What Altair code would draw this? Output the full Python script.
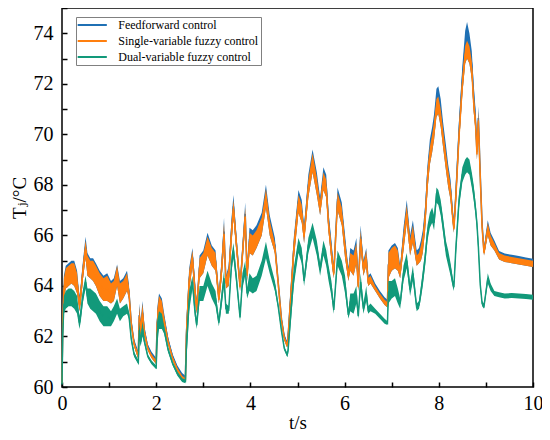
import altair as alt
import pandas as pd

# time axis (s)
t = [
    0.00, 0.015, 0.04, 0.08, 0.14, 0.20, 0.26, 0.32, 0.37, 0.40,
    0.44, 0.50, 0.54, 0.60, 0.66, 0.72, 0.80, 0.88, 0.96, 1.04,
    1.10, 1.17, 1.23, 1.30, 1.38, 1.42, 1.47, 1.53, 1.62, 1.64,
    1.67, 1.71, 1.75, 1.82, 1.90, 2.00, 2.02, 2.06, 2.12, 2.17,
    2.25, 2.35, 2.45, 2.55, 2.62, 2.64, 2.70, 2.77, 2.82, 2.86,
    2.92, 3.00, 3.09, 3.18, 3.26, 3.33, 3.39, 3.44, 3.48, 3.54,
    3.60, 3.64, 3.70, 3.78, 3.83, 3.89, 3.93, 3.98, 4.05, 4.13,
    4.24, 4.33, 4.41, 4.52, 4.59, 4.66, 4.72, 4.78, 4.80, 4.86,
    4.92, 5.02, 5.09, 5.14, 5.23, 5.32, 5.41, 5.48, 5.55, 5.61,
    5.66, 5.72, 5.77, 5.85, 5.94, 6.01, 6.08, 6.12, 6.19, 6.25,
    6.29, 6.34, 6.40, 6.46, 6.50, 6.55, 6.65, 6.75, 6.85, 6.91,
    6.93, 7.00, 7.07, 7.13, 7.18, 7.25, 7.32, 7.39, 7.45, 7.53,
    7.58, 7.62, 7.66, 7.71, 7.76, 7.81, 7.86, 7.90, 7.95, 7.99,
    8.04, 8.09, 8.15, 8.20, 8.25, 8.29, 8.32, 8.36, 8.43, 8.50,
    8.56, 8.60, 8.65, 8.70, 8.74, 8.78, 8.81, 8.84, 8.88, 8.92,
    8.96, 9.00, 9.04, 9.10, 9.18, 9.28, 9.40, 9.55, 9.70, 9.85,
    10.0,
]

# Feedforward control: upper edge of the noisy band
ff_hi = [
    60.3, 62.9, 64.4, 64.8, 64.9, 65.0, 65.0, 64.6, 63.6, 64.1,
    64.9, 65.95, 65.3, 65.1, 65.1, 64.9, 64.6, 64.4, 64.5, 64.2,
    64.3, 64.85, 64.2, 64.3, 64.6, 64.1, 62.7, 61.9, 61.4, 63.3,
    62.6, 63.4, 62.4, 61.7, 61.4, 61.15, 63.1, 63.7, 63.5, 62.9,
    62.0, 61.3, 60.85, 60.55, 60.45, 62.6, 64.7, 65.5, 64.3, 63.3,
    65.2, 65.4, 66.1, 65.6, 65.4, 63.7, 65.1, 66.7, 64.4, 64.8,
    66.7, 67.6, 66.1, 64.2, 65.6, 67.3, 64.7, 66.3, 66.2, 66.4,
    66.9, 68.0, 66.8, 65.9, 64.3, 62.8, 62.1, 61.8, 62.3, 64.1,
    65.9, 67.8, 67.4, 66.4, 68.4, 69.4, 68.5, 67.5, 68.7, 68.4,
    66.9, 65.8, 64.7, 67.9, 67.3, 66.0, 64.7, 65.5, 65.4, 65.9,
    64.2, 66.4, 65.0, 65.5, 64.4, 64.5, 64.1, 63.8, 63.55, 63.45,
    65.4, 65.6, 65.7, 65.5, 64.8, 66.3, 67.4, 66.0, 66.6, 65.4,
    65.5, 65.8, 66.2, 67.2, 68.8, 69.8, 70.3, 70.8, 71.8, 71.9,
    71.4, 70.5, 69.6, 68.8, 68.2, 67.2, 66.5, 68.0, 70.6, 72.7,
    74.1, 74.45, 74.0, 73.3, 72.0, 71.0, 69.6, 71.1, 68.8, 66.7,
    65.5, 66.1, 66.6, 66.1, 65.8, 65.38, 65.28, 65.23, 65.18, 65.13,
    65.08,
]

# Single-variable fuzzy control: upper / lower edge of the band
sv_hi = [
    60.3, 62.8, 64.3, 64.7, 64.8, 64.9, 64.9, 64.5, 63.5, 64.0,
    64.8, 65.8, 65.2, 65.0, 65.0, 64.8, 64.5, 64.3, 64.4, 64.1,
    64.2, 64.8, 64.1, 64.2, 64.5, 64.0, 62.6, 61.8, 61.3, 63.2,
    62.5, 63.3, 62.3, 61.6, 61.3, 61.05, 63.0, 63.6, 63.4, 62.8,
    61.9, 61.2, 60.75, 60.45, 60.35, 62.5, 64.6, 65.4, 64.2, 63.2,
    65.1, 65.3, 65.95, 65.5, 65.3, 63.6, 65.0, 66.5, 64.3, 64.7,
    66.5, 67.4, 66.0, 64.1, 65.5, 67.1, 64.6, 66.1, 66.0, 66.2,
    66.7, 67.85, 66.6, 65.7, 64.2, 62.7, 62.0, 61.7, 62.2, 64.0,
    65.8, 67.6, 67.2, 66.2, 68.2, 69.25, 68.3, 67.3, 68.5, 68.2,
    66.7, 65.6, 64.6, 67.7, 67.1, 65.8, 64.6, 65.3, 65.2, 65.7,
    64.1, 66.2, 64.9, 65.4, 64.3, 64.4, 64.0, 63.7, 63.45, 63.35,
    65.3, 65.5, 65.6, 65.4, 64.7, 66.1, 67.2, 65.8, 66.4, 65.2,
    65.3, 65.6, 66.0, 67.0, 68.6, 69.5, 70.0, 70.5, 71.4, 71.5,
    71.0, 70.2, 69.3, 68.6, 68.0, 67.0, 66.4, 67.8, 70.3, 72.3,
    73.5, 73.7, 73.5, 72.9, 71.6, 70.7, 69.4, 70.9, 68.6, 66.5,
    65.4, 66.0, 66.5, 66.0, 65.7, 65.3, 65.2, 65.15, 65.1, 65.05,
    65.0,
]
sv_lo = [
    60.0, 62.3, 63.4, 63.9, 64.0, 64.1, 64.0, 63.7, 63.0, 63.3,
    64.2, 65.1, 64.4, 64.3, 64.2, 64.0, 63.6, 63.4, 63.4, 63.3,
    63.4, 64.0, 63.3, 63.5, 63.8, 63.5, 62.4, 61.6, 61.1, 62.4,
    62.0, 62.5, 62.0, 61.45, 61.15, 60.9, 62.0, 62.6, 62.6, 62.4,
    61.7, 61.05, 60.6, 60.3, 60.2, 61.5, 63.8, 64.8, 63.5, 62.9,
    64.3, 64.5, 65.2, 64.8, 64.6, 63.3, 64.3, 65.6, 63.9, 64.0,
    65.7, 66.7, 65.4, 63.8, 64.9, 66.4, 64.2, 65.3, 65.2, 65.5,
    66.0, 67.1, 66.0, 65.3, 64.0, 62.55, 61.85, 61.55, 61.7, 63.3,
    65.0, 66.9, 66.5, 65.7, 67.5, 68.5, 67.6, 66.8, 67.8, 67.5,
    66.1, 65.0, 64.3, 67.0, 66.4, 65.1, 64.2, 64.6, 64.4, 64.9,
    63.8, 65.5, 64.4, 64.8, 64.0, 64.1, 63.8, 63.5, 63.25, 63.15,
    64.3, 64.6, 64.7, 64.6, 64.3, 65.4, 66.5, 65.2, 65.7, 64.8,
    64.9, 65.0, 65.3, 66.2, 67.8, 68.8, 69.3, 69.8, 70.7, 70.8,
    70.3, 69.5, 68.6, 67.9, 67.4, 66.6, 66.1, 67.1, 69.6, 71.6,
    72.8, 73.0, 72.8, 72.2, 70.9, 70.1, 69.0, 70.2, 68.0, 66.1,
    65.2, 65.6, 66.0, 65.6, 65.4, 65.05, 64.95, 64.9, 64.85, 64.8,
    64.75,
]

# Dual-variable fuzzy control: upper / lower edge of the band
dv_hi = [
    60.2, 62.3, 63.6, 63.8, 63.9, 63.9, 63.8, 63.6, 62.8, 63.2,
    63.8, 64.4, 63.9, 63.9, 63.8, 63.7, 63.4, 63.2, 63.2, 63.0,
    63.2, 63.5, 63.1, 63.2, 63.3, 63.0, 62.0, 61.4, 61.05, 62.6,
    62.0, 62.6, 61.9, 61.3, 61.05, 60.85, 62.6, 63.0, 62.9, 62.4,
    61.6, 61.0, 60.6, 60.35, 60.3, 62.0, 63.8, 64.4, 63.3, 62.6,
    64.0, 64.0, 64.6, 64.1, 63.8, 62.7, 63.8, 64.6, 63.3, 63.2,
    65.2, 65.7, 64.6, 62.9, 64.5, 65.0, 63.9, 64.5, 64.3, 64.4,
    65.0, 65.75, 65.0, 64.2, 63.3, 62.3, 61.6, 61.35, 61.6, 63.3,
    64.7, 65.9, 65.5, 64.4, 65.9, 66.5, 65.8, 64.9, 65.8, 65.4,
    64.8, 64.2, 63.2, 65.4, 65.0, 64.4, 63.0, 63.7, 63.7, 64.0,
    62.9, 64.5, 63.3, 64.0, 63.2, 63.3, 63.1, 62.9, 62.7, 62.6,
    64.2, 64.2, 64.3, 63.9, 63.5, 64.8, 65.3, 64.1, 64.8, 63.3,
    63.4, 64.0, 64.6, 65.4, 66.4, 66.9, 67.1, 66.8, 67.9, 67.8,
    67.4, 66.7, 65.8, 65.4, 64.9, 64.4, 64.1, 65.7, 67.7, 68.7,
    69.0, 69.1, 69.0, 68.5, 68.0, 67.3, 66.7, 65.8, 64.2, 63.4,
    63.3, 63.9, 64.5, 64.1, 63.8, 63.75, 63.7, 63.72, 63.7, 63.68,
    63.65,
]
dv_lo = [
    60.0, 61.8, 62.9, 63.1, 63.2, 63.2, 63.1, 62.9, 62.3, 62.6,
    63.3, 63.9, 63.3, 63.1, 63.0, 62.9, 62.6, 62.4, 62.4, 62.4,
    62.6, 62.9, 62.6, 62.8, 62.9, 62.7, 61.8, 61.2, 60.9, 61.9,
    61.6, 62.0, 61.7, 61.15, 60.9, 60.7, 61.6, 62.3, 62.3, 62.1,
    61.4, 60.85, 60.45, 60.2, 60.15, 61.0, 63.0, 63.9, 62.8, 62.3,
    63.4, 63.4, 64.0, 63.5, 63.2, 62.4, 63.2, 64.0, 62.9, 62.9,
    64.6, 65.1, 64.1, 62.6, 63.9, 64.4, 63.5, 63.8, 63.7, 63.8,
    64.4, 65.1, 64.5, 63.8, 63.1, 62.15, 61.45, 61.2, 61.3, 62.6,
    64.0, 65.3, 64.9, 64.0, 65.3, 65.9, 65.2, 64.4, 65.2, 64.8,
    64.2, 63.6, 62.9, 64.8, 64.4, 63.7, 62.7, 63.0, 62.9, 63.3,
    62.7, 63.8, 62.9, 63.4, 62.9, 63.0, 62.9, 62.7, 62.5, 62.45,
    63.3, 63.5, 63.6, 63.3, 63.1, 64.2, 64.7, 63.6, 64.2, 63.0,
    63.1, 63.5, 64.0, 64.8, 65.8, 66.3, 66.5, 66.2, 67.3, 67.2,
    66.8, 66.1, 65.2, 64.8, 64.4, 64.0, 63.8, 65.1, 67.1, 68.1,
    68.4, 68.5, 68.4, 67.9, 67.4, 66.8, 66.2, 65.3, 63.9, 63.2,
    63.1, 63.6, 64.1, 63.8, 63.6, 63.55, 63.5, 63.52, 63.5, 63.48,
    63.45,
]

names = ["Feedforward control", "Single-variable fuzzy control",
         "Dual-variable fuzzy control"]
colors = ["#1f70b4", "#ff7f0e", "#12997a"]

FONT = "'Liberation Serif', 'Times New Roman', 'DejaVu Serif', serif"


def band_frame(name, hi, lo):
    return pd.DataFrame({
        "t": t, "hi": hi, "lo": lo,
        "mid": [(a + b) / 2 for a, b in zip(hi, lo)],
        "series": name,
    })


frames = [
    band_frame(names[0], ff_hi, sv_lo),
    band_frame(names[1], sv_hi, sv_lo),
    band_frame(names[2], dv_hi, dv_lo),
]

x_enc = alt.X(
    "t:Q", title="t/s",
    scale=alt.Scale(domain=[0, 10], nice=False, zero=False),
    axis=alt.Axis(
        values=list(range(0, 11)),
        labelExpr="datum.value % 2 == 0 ? datum.label : ''",
        domain=False, grid=False, offset=-5, tickSize=5, tickWidth=1.5,
        tickColor="black", labelFont=FONT, labelFontSize=20,
        labelColor="black", labelPadding=6, titleFont=FONT,
        titleFontSize=19, titleFontWeight="normal", titleColor="black",
        titlePadding=0, labelFlush=False,
    ),
)
y_axis = alt.Axis(
    values=list(range(60, 76)),
    labelExpr="datum.value % 2 == 0 && datum.value < 75 ? datum.label : ''",
    domain=False, grid=False, offset=-5, tickSize=5, tickWidth=1.5,
    tickColor="black", labelFont=FONT, labelFontSize=20, labelColor="black",
    labelPadding=9, titleFont=FONT, titleFontSize=19,
    titleFontWeight="normal", titleColor="black", titlePadding=4,
    labelFlush=False,
)
y_scale = alt.Scale(domain=[60, 75], nice=False, zero=False)

color_enc = alt.Color(
    "series:N",
    scale=alt.Scale(domain=names, range=colors),
    legend=alt.Legend(
        title=None, orient="none", legendX=14, legendY=9,
        symbolType="M-5,0H5", symbolSize=34, symbolStrokeWidth=2,
        symbolOffset=8.25, symbolFillColor="transparent",
        labelFont=FONT, labelFontSize=12, labelColor="black",
        labelOffset=20, labelLimit=400, padding=2, rowPadding=4,
        strokeColor="#808080", fillColor="white",
    ),
)

layers = []
for df, col in zip(frames, colors):
    area = alt.Chart(df).mark_area(color=col, opacity=1).encode(
        x=x_enc,
        y=alt.Y("lo:Q", title="Tⱼ/°C", scale=y_scale, axis=y_axis),
        y2="hi:Q",
    )
    line = alt.Chart(df).mark_line(strokeWidth=1.5).encode(
        x=x_enc,
        y=alt.Y("mid:Q", title="Tⱼ/°C", scale=y_scale, axis=y_axis),
        color=color_enc,
    )
    layers += [area, line]

chart = alt.layer(*layers).properties(
    width=471, height=379,
    padding={"left": 54, "top": 0, "right": 9, "bottom": 56},
    autosize=alt.AutoSizeParams(type="none"),
    background="white",
).configure_view(stroke="black", strokeWidth=1.5)

chart.save("out.html", embed_options={"renderer": "svg", "actions": False})
